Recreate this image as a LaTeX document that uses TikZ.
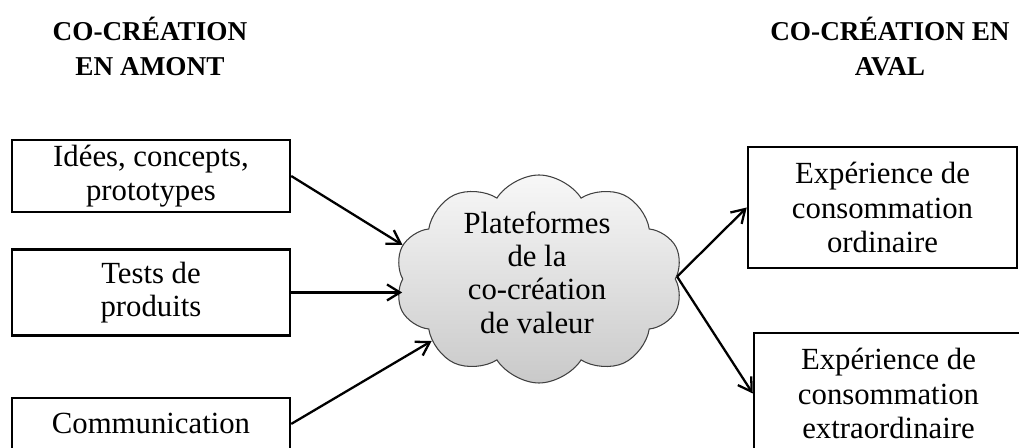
\documentclass[tikz,border=0pt]{standalone}
\usepackage{fontspec}
\setmainfont{Liberation Serif}
\usetikzlibrary{shapes,arrows.meta,positioning}

\begin{document}
\begin{tikzpicture}[
    node distance=0.7cm and 0.6cm,
    entree/.style={rectangle, draw, line width=1.4pt, fill=white, minimum width=5.56cm, font=\fontsize{17.5}{19}\selectfont, align=center, inner sep=2pt},
    sortie/.style={rectangle, draw, line width=1.4pt, fill=white, minimum width=5.38cm, minimum height=2.42cm, font=\fontsize{17.5}{19.5}\selectfont, align=center},
    titre/.style={font=\fontsize{15.5}{20}\selectfont\bfseries, align=center},
    nuage/.style={cloud, cloud puffs=10, cloud puff arc=115, draw=black!75, line width=0.6pt, top color=gray!6, bottom color=gray!42, minimum width=5.76cm, minimum height=4.16cm, inner sep=0pt},
    arrow/.style={-{Straight Barb[length=2.6mm,width=3.2mm]}, line width=1.3pt},
]
    \useasboundingbox (0,0) rectangle (20.38,-8.96);

    % Titles
    \node[titre] (amont) at (3.0,-0.93) {CO-CRÉATION\\EN AMONT};
    \node[titre] (aval) at (17.8,-0.93) {CO-CRÉATION EN\\AVAL};

    % Upstream inputs (left column)
    \node[entree, minimum height=1.44cm] (idees) at (3.02,-3.52) {Idées, concepts,\\prototypes};
    \node[entree, minimum height=1.72cm, below=0.7cm of idees] (tests) {Tests de\\produits};
    \node[entree, minimum height=1.04cm, below=1.2cm of tests] (comm) {Communication};

    % Platform (middle)
    \node[nuage] (plateforme) at (10.78,-5.58) {};
    \node[font=\fontsize{17.5}{19}\selectfont, align=center] (plateformetxt) at (10.74,-5.45) {Plateformes\\de la\\co-création\\de valeur};

    % Downstream experiences (right column)
    \node[sortie] (ordinaire) at (17.65,-4.15) {Expérience de\\consommation\\ordinaire};
    \node[sortie] (extra) at (17.77,-7.87) {Expérience de\\consommation\\extraordinaire};

    % Arrows into the platform
    \draw[arrow] (idees.east) -- (plateforme.166);
    \draw[arrow] (tests.east) -- (plateforme.west |- tests.east);
    \draw[arrow] (comm.east) -- (plateforme.210);

    % Arrows out of the platform
    \draw[arrow] (plateforme.1) -- (ordinaire.west);
    \draw[arrow] (plateforme.1) -- (extra.west);
\end{tikzpicture}
\end{document}
